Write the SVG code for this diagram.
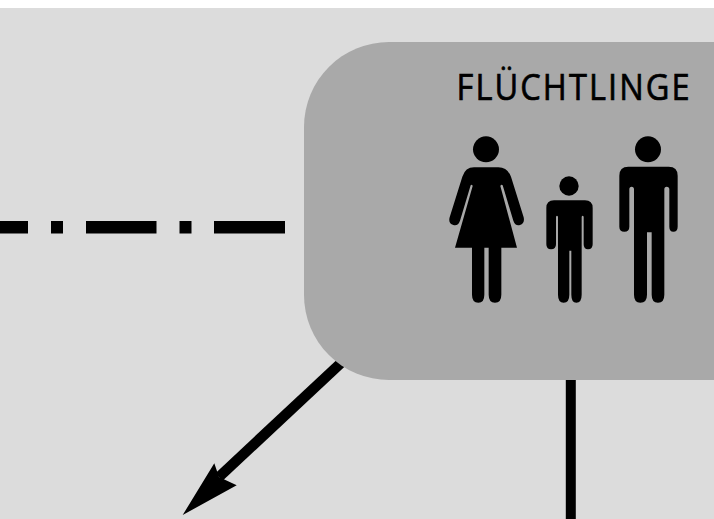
<svg xmlns="http://www.w3.org/2000/svg" width="714" height="519" viewBox="0 0 714 519">
<style>
.ink{fill:#000}
.dash{stroke:#000;stroke-width:12.5;fill:none}
.label{font-family:"Open Sans","Noto Sans",sans-serif;font-size:37px;fill:#000;stroke:#000;stroke-width:0.7px}
</style>
<rect width="714" height="519" fill="#fff"/>
<rect y="8" width="714" height="511" fill="#dcdcdc"/>
<g id="connectors">
<path class="dash" d="M0 227.300H28M51 227.300H63M86 227.300H156.500M179.500 227.300H191.500M214 227.300H285"/>
<path d="M570.800 380V519" fill="none" stroke="#000" stroke-width="10"/>
<path d="M341.500 362.500L219 477" fill="none" stroke="#000" stroke-width="10.500"/>
<path class="ink" d="M182.700 515L214.300 463.300L219 477L236.700 485.300Z"/>
</g>
<g id="fluechtlinge">
<rect x="304" y="42" width="500" height="338" rx="85" ry="85" fill="#a9a9a9"/>
<text class="label" transform="translate(456.500 100) scale(0.88 1)" textLength="265" lengthAdjust="spacing">FLÜCHTLINGE</text>
<g transform="translate(430 60) scale(0.33333)">
<g id="woman">
<circle class="ink" cx="168" cy="268" r="39"/>
<path class="ink" d="M132 322H205Q232 322 243 350L281 472Q285 490 270 495Q256 499 250 482L218 376Q214 372 211 378L261 563H214V704Q214 728 195 728Q176 728 176 704V563H163V704Q163 728 145 728Q126 728 126 704V563H75L128 378Q126 372 122 376L90 482Q84 499 70 495Q54 490 59 472L97 350Q106 322 132 322Z"/>
</g>
<g id="child">
<circle class="ink" cx="417" cy="378" r="29"/>
<path class="ink" d="M372 421H465Q488 421 488 444V553Q488 568 474 568Q461 568 461 553V470Q458 464 455 470V704Q455 728 439 728Q424 728 424 704V572H418V704Q418 728 401 728Q384 728 384 704V470Q381 464 378 470V553Q378 568 363 568Q349 568 349 553V444Q349 421 372 421Z"/>
</g>
<g id="man">
<circle class="ink" cx="654" cy="268" r="39"/>
<path class="ink" d="M595 320H716Q743 320 743 347V500Q743 515 730 515Q718 515 718 500V388Q718 380 710 380Q703 380 703 388V704Q703 728 684 728Q665 728 665 704V517H651V704Q651 728 631 728Q612 728 612 704V388Q612 380 605 380Q598 380 598 388V500Q598 515 583 515Q568 515 568 500V347Q568 320 595 320Z"/>
</g>
</g>
</g>
</svg>
